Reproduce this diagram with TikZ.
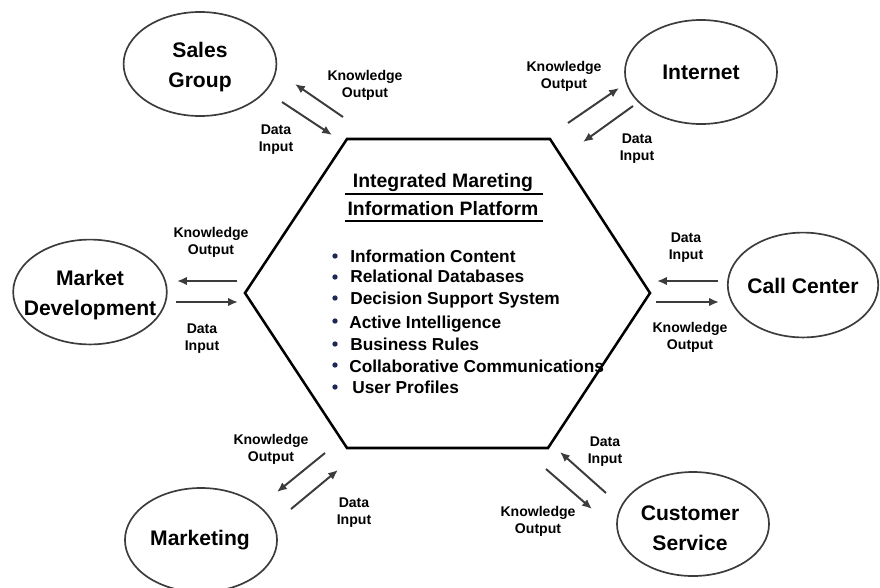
\documentclass[tikz,border=0pt]{standalone}
\usepackage{fontspec}
\setmainfont{Liberation Sans}
\usepackage{xcolor}
\usetikzlibrary{positioning,shapes,arrows,arrows.meta}

\definecolor{edgegray}{RGB}{60,60,60}
\definecolor{bulletblue}{RGB}{30,40,85}

\begin{document}
\begin{tikzpicture}[x=0.025cm, y=-0.025cm,
    unit/.style={align=center, inner sep=0pt, font=\fontsize{15}{21}\selectfont\bfseries},
    unitline/.style={draw=edgegray, line width=1.2pt},
    flow/.style={align=center, inner sep=0pt, font=\fontsize{10}{12}\selectfont\bfseries},
    item/.style={anchor=base west, inner sep=0pt, font=\fontsize{12.3}{14}\selectfont\bfseries},
    title/.style={anchor=base, inner sep=0pt, font=\fontsize{13.8}{16}\selectfont\bfseries},
    bullet/.style={circle, fill=bulletblue, inner sep=0pt, minimum size=3.8pt},
    arrow/.style={-{Latex[length=7pt,width=6pt]}, line width=1.4pt, edgegray}
]
\useasboundingbox (0,0) rectangle (880,587);

% Platform
\coordinate (hexTL) at (347,139);
\coordinate (hexTR) at (550,139);
\coordinate (hexR) at (650,293);
\coordinate (hexBR) at (548,448);
\coordinate (hexBL) at (347,448);
\coordinate (hexL) at (245,293);
\draw[line width=1.8pt, line join=miter] (hexTL) -- (hexTR) -- (hexR) -- (hexBR) -- (hexBL) -- (hexL) -- cycle;

\node[title] (title1) at (443,187) {Integrated Mareting};
\node[title] (title2) at (443,215) {Information Platform};
\draw[line width=1.6pt] (345,194) -- (543,194);
\draw[line width=1.6pt] (345,221) -- (543,221);

% Platform contents
\node[item] (item1) at (350,262) {Information Content};
\node[item] (item2) at (350,282) {Relational Databases};
\node[item] (item3) at (350,304) {Decision Support System};
\node[item] (item4) at (349,328) {Active Intelligence};
\node[item] (item5) at (350,350) {Business Rules};
\node[item] (item6) at (349,372) {Collaborative Communications};
\node[item] (item7) at (352,393) {User Profiles};
\node[bullet] (dot1) at (335,256) {};
\node[bullet] (dot2) at (335,277) {};
\node[bullet] (dot3) at (335,298) {};
\node[bullet] (dot4) at (335,321) {};
\node[bullet] (dot5) at (335,344) {};
\node[bullet] (dot6) at (335,365) {};
\node[bullet] (dot7) at (335,387) {};

% Units
\node[unit] (sales) at (200,67) {Sales\\Group};
\node[unit] (internet) at (701,72) {Internet};
\node[unit] (market) at (90,295) {Market\\Development};
\node[unit] (call) at (803,286) {Call Center};
\node[unit] (marketing) at (200,540) {Marketing};
\node[unit] (customer) at (690,528) {Customer\\Service};
\draw[unitline] (200,64) ellipse [x radius=1.91cm, y radius=1.3cm];
\draw[unitline] (701,72) ellipse [x radius=1.9cm, y radius=1.3cm];
\draw[unitline] (90,292) ellipse [x radius=1.92cm, y radius=1.31cm];
\draw[unitline] (803,285) ellipse [x radius=1.88cm, y radius=1.31cm];
\draw[unitline] (201,540) ellipse [x radius=1.9cm, y radius=1.3cm];
\draw[unitline] (693,524) ellipse [x radius=1.9cm, y radius=1.3cm];

% Arrow ends
\coordinate (salesKoA) at (343,117);  \coordinate (salesKoB) at (295,84);
\coordinate (salesDiA) at (282,102);  \coordinate (salesDiB) at (332,135);
\coordinate (netKoA) at (568,123);    \coordinate (netKoB) at (619,88);
\coordinate (netDiA) at (633,106);    \coordinate (netDiB) at (583,142);
\coordinate (mdKoA) at (237,281);     \coordinate (mdKoB) at (177,281);
\coordinate (mdDiA) at (176,302);     \coordinate (mdDiB) at (238,302);
\coordinate (ccDiA) at (718,281);     \coordinate (ccDiB) at (657,281);
\coordinate (ccKoA) at (656,302);     \coordinate (ccKoB) at (719,302);
\coordinate (mkKoA) at (325,453);     \coordinate (mkKoB) at (277,492);
\coordinate (mkDiA) at (291,509);     \coordinate (mkDiB) at (338,470);
\coordinate (csDiA) at (606,493);     \coordinate (csDiB) at (560,452);
\coordinate (csKoA) at (546,469);     \coordinate (csKoB) at (592,509);

% Flows
\draw[arrow] (salesKoA) -- (salesKoB);
\draw[arrow] (salesDiA) -- (salesDiB);
\draw[arrow] (netKoA) -- (netKoB);
\draw[arrow] (netDiA) -- (netDiB);
\draw[arrow] (mdKoA) -- (mdKoB);
\draw[arrow] (mdDiA) -- (mdDiB);
\draw[arrow] (ccDiA) -- (ccDiB);
\draw[arrow] (ccKoA) -- (ccKoB);
\draw[arrow] (mkKoA) -- (mkKoB);
\draw[arrow] (mkDiA) -- (mkDiB);
\draw[arrow] (csDiA) -- (csDiB);
\draw[arrow] (csKoA) -- (csKoB);

% Flow labels
\node[flow] (salesKo) at (365,85) {Knowledge\\Output};
\node[flow] (salesDi) at (276,140) {Data\\Input};
\node[flow] (netKo) at (564,76) {Knowledge\\Output};
\node[flow] (netDi) at (637,149) {Data\\Input};
\node[flow] (mdKo) at (211,242) {Knowledge\\Output};
\node[flow] (mdDi) at (202,339) {Data\\Input};
\node[flow] (ccDi) at (686,248) {Data\\Input};
\node[flow] (ccKo) at (690,337) {Knowledge\\Output};
\node[flow] (mkKo) at (271,449) {Knowledge\\Output};
\node[flow] (mkDi) at (354,513) {Data\\Input};
\node[flow] (csDi) at (605,452) {Data\\Input};
\node[flow] (csKo) at (538,521) {Knowledge\\Output};

\end{tikzpicture}
\end{document}
